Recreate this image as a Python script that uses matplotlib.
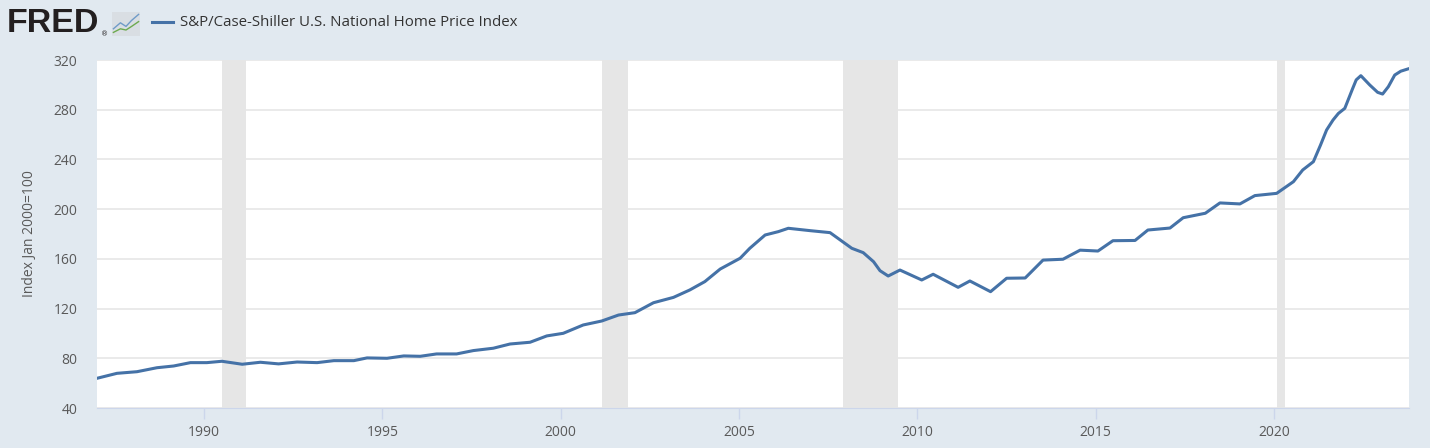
import numpy as np
import matplotlib.pyplot as plt
from matplotlib.lines import Line2D

# fechas (fraccion de año) y valores del indice
fechas = [1987.00, 1987.56, 1988.12, 1988.68, 1989.15, 1989.62, 1990.08, 1990.50,
          1991.07, 1991.58, 1992.09, 1992.61, 1993.17, 1993.64, 1994.20, 1994.57,
          1995.13, 1995.60, 1996.06, 1996.52, 1997.08, 1997.55, 1998.11, 1998.58,
          1999.14, 1999.61, 2000.07, 2000.63, 2001.15, 2001.62, 2002.08, 2002.60,
          2003.16, 2003.62, 2004.04, 2004.47, 2005.03, 2005.30, 2005.73, 2006.10,
          2006.38, 2006.99, 2007.55, 2008.16, 2008.48, 2008.77, 2008.95, 2009.18,
          2009.51, 2010.12, 2010.44, 2011.14, 2011.47, 2012.05, 2012.50, 2013.02,
          2013.52, 2014.08, 2014.56, 2015.06, 2015.48, 2016.10, 2016.46, 2017.08,
          2017.45, 2018.07, 2018.48, 2019.04, 2019.46, 2020.07, 2020.54, 2020.80,
          2021.10, 2021.30, 2021.47, 2021.65, 2021.80, 2021.98, 2022.20, 2022.30,
          2022.43, 2022.68, 2022.90, 2023.04, 2023.20, 2023.38, 2023.55, 2023.75]
indice = [63.9, 67.9, 69.2, 72.4, 73.8, 76.5, 76.5, 77.6,
          75.2, 76.8, 75.5, 77.0, 76.5, 78.1, 78.1, 80.3,
          80.0, 81.9, 81.6, 83.5, 83.5, 86.2, 88.1, 91.5,
          92.9, 98.0, 100.1, 106.8, 110.0, 114.8, 116.7, 124.7,
          129.0, 135.0, 141.7, 151.8, 160.5, 168.5, 179.2, 181.9,
          184.6, 182.7, 181.1, 168.5, 165.0, 157.7, 150.5, 146.2,
          151.0, 143.0, 147.6, 137.1, 142.2, 133.6, 144.4, 144.6,
          159.0, 159.7, 167.0, 166.3, 174.6, 174.8, 183.2, 184.8,
          193.1, 196.7, 205.0, 204.2, 210.9, 212.7, 222.1, 231.5,
          238.2, 251.6, 263.7, 271.7, 277.0, 281.1, 297.0, 304.0,
          307.4, 299.9, 294.0, 292.6, 298.5, 307.9, 311.0, 312.8]

# recesiones (inicio, fin)
recesiones = [(1990.50, 1991.17), (2001.17, 2001.88), (2007.92, 2009.46), (2020.08, 2020.29)]

fondo = '#E1E9F0'
azul = '#4572A7'
gris_txt = '#595959'

fig = plt.figure(figsize=(14.30, 4.48), dpi=100, facecolor=fondo)
ax = fig.add_axes([97/1430, 40/448, 1312/1430, 348/448])
ax.set_facecolor('white')

for ini, fin in recesiones:
    ax.axvspan(ini, fin, color='#E6E6E6', lw=0, zorder=1)

ax.plot(fechas, indice, color=azul, lw=2.2, solid_joinstyle='round', zorder=3)

ax.set_xlim(1987.0, 2023.78)
ax.set_ylim(40, 320)
ax.set_yticks(np.arange(40, 321, 40))
ax.set_xticks([1990, 1995, 2000, 2005, 2010, 2015, 2020])
ax.grid(axis='y', color='#E6E6E6', lw=1.2, zorder=0)
ax.set_axisbelow(True)

for lado in ['top', 'right', 'left']:
    ax.spines[lado].set_visible(False)
ax.spines['bottom'].set_color('#CCD6EB')
ax.tick_params(axis='x', colors='#CCD6EB', length=8, width=1, labelcolor=gris_txt,
               labelsize=10, pad=4)
ax.tick_params(axis='y', length=0, labelcolor=gris_txt, labelsize=10, pad=14)
for t in ax.get_xticklabels() + ax.get_yticklabels():
    t.set_fontfamily('Open Sans')

ax.set_ylabel('Index Jan 2000=100', fontsize=10, color=gris_txt, family='Open Sans', labelpad=12)

# cabecera tipo FRED
fig.text(7/1430, 1 - 23/448, 'FRED', fontsize=24.5, fontweight='bold', family='Liberation Sans',
         color='#231F20', va='center', ha='left')
fig.text(101/1430, 1 - 34/448, '®', fontsize=5, color='#231F20', va='center', ha='left')
icono = fig.add_axes([112/1430, 1 - 36/448, 28/1430, 24/448])
icono.set_xlim(0, 1)
icono.set_ylim(0, 1)
icono.axis('off')
icono.fill_between([0, 1], 0, 1, color='#D9DEE3', lw=0)
icono.plot([0.05, 0.3, 0.5, 0.7, 0.95], [0.3, 0.55, 0.4, 0.65, 0.9], color='#6F9BC8', lw=1)
icono.plot([0.05, 0.3, 0.5, 0.7, 0.95], [0.15, 0.3, 0.25, 0.4, 0.6], color='#6DAA4F', lw=1)

fig.add_artist(Line2D([152/1430, 173/1430], [1 - 22/448, 1 - 22/448], color=azul, lw=2.2))
fig.text(180/1430, 1 - 22/448, 'S&P/Case-Shiller U.S. National Home Price Index',
         fontsize=10.8, family='Open Sans', color='#333333', va='center', ha='left')

fig.savefig('out.png', dpi=100, facecolor=fondo)
